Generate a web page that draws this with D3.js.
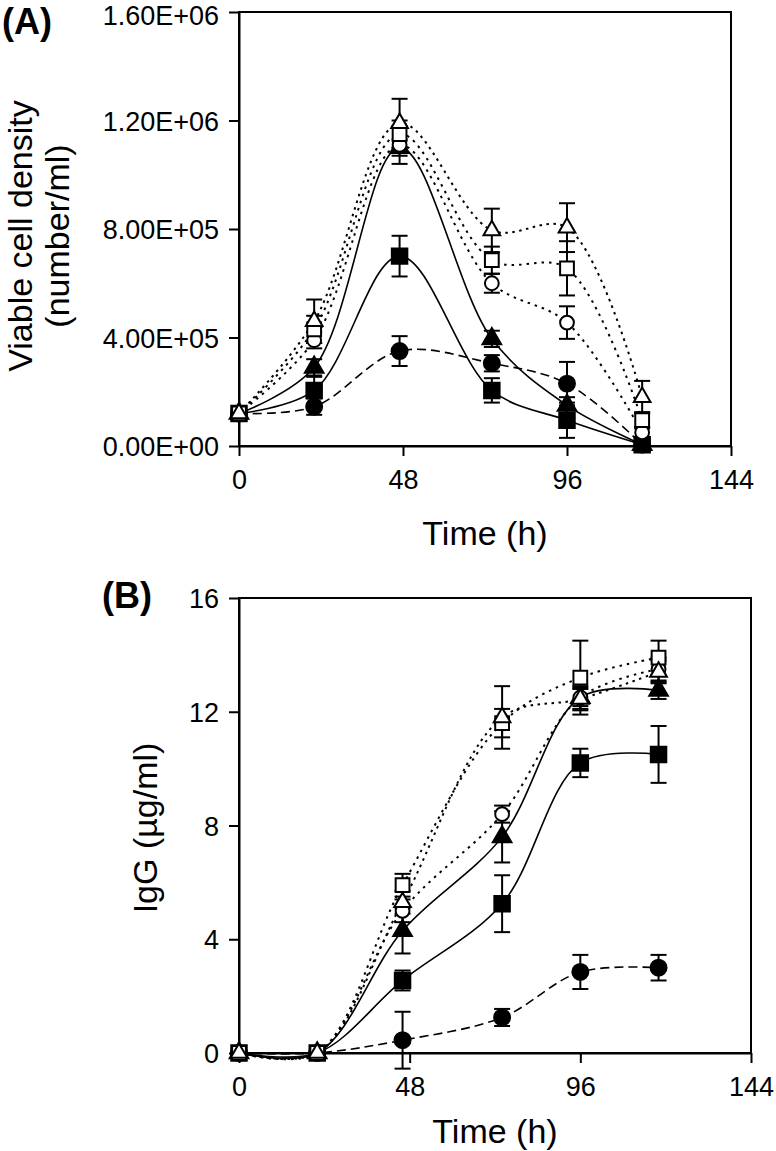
<!DOCTYPE html>
<html><head><meta charset="utf-8">
<script src="https://cdn.jsdelivr.net/npm/d3@7"></script>
<style>
body{margin:0;background:#fff}
svg{display:block}
text{font-family:"Liberation Sans",Arial,sans-serif;fill:#000}
</style>
</head><body>
<svg id="c" width="776" height="1151"></svg>
<script>
// ---------- DATA ----------
const timesA = [0, 22, 47, 74, 96, 118];
const timesB = [0, 22, 46, 74, 96, 118];

// Panel A: viable cell density (number/ml)
const fCircleA = [1.2e5, 1.45e5, 3.5e5, 3.05e5, 2.3e5, 0.05e5];
const fSquareA = [1.2e5, 2.05e5, 7.0e5, 2.05e5, 0.95e5, 0.05e5];
const fTriA    = [1.2e5, 2.9e5, 11.0e5, 3.95e5, 1.5e5, 0.05e5];
const oCircleA = [1.2e5, 3.9e5, 11.1e5, 6.0e5, 4.55e5, 0.5e5];
const oSquareA = [1.2e5, 4.3e5, 11.5e5, 6.85e5, 6.55e5, 0.95e5];
const oTriA    = [1.2e5, 4.6e5, 11.9e5, 7.95e5, 8.05e5, 1.8e5];

const fCircleAErr = [0, 0.3e5, 0.55e5, 0.3e5, 0.8e5, 0];
const fSquareAErr = [0, 0.5e5, 0.75e5, 0.45e5, 0.65e5, 0.1e5];
const fTriAErr    = [0, 0.3e5, 0.3e5, 0.3e5, 0.3e5, 0.1e5];
const oCircleAErr = [0, 0.3e5, 0.7e5, 0.35e5, 0.6e5, 0.2e5];
const oSquareAErr = [0, 0.5e5, 0.5e5, 0.5e5, 1.0e5, 0.3e5];
const oTriAErr    = [0, 0.8e5, 0.9e5, 0.8e5, 0.9e5, 0.6e5];

// Panel B: IgG (ug/ml)
const fCircleB = [0, 0, 0.45, 1.25, 2.85, 3.0];
const fSquareB = [0, 0, 2.55, 5.25, 10.2, 10.5];
const fTriB    = [0, 0, 4.3, 7.6, 12.5, 12.75];
const oCircleB = [0, 0, 5.0, 8.4, 12.5, 13.5];
const oSquareB = [0, 0, 5.9, 11.6, 13.2, 13.9];
const oTriB    = [0, 0, 5.3, 11.8, 12.45, 13.4];

const fCircleBErr = [0, 0, 1.0, 0.3, 0.6, 0.45];
const fSquareBErr = [0, 0, 0.35, 1.0, 0.5, 1.0];
const fTriBErr    = [0, 0, 0.8, 0.9, 0.3, 0.3];
const oCircleBErr = [0, 0, 0.4, 0.3, 0.4, 0.4];
const oSquareBErr = [0, 0, 0.4, 0.5, 1.3, 0.6];
const oTriBErr    = [0, 0, 0.4, 1.1, 0.4, 0.4];

// Ticks
const xTicks = [0, 48, 96, 144];
const yTicksA = [0, 4e5, 8e5, 12e5, 16e5];
const yTickLabelsA = ["0.00E+00", "4.00E+05", "8.00E+05", "1.20E+06", "1.60E+06"];
const yTicksB = [0, 4, 8, 12, 16];
const yTickLabelsB = ["0", "4", "8", "12", "16"];

// ---------- DRAW ----------
const svg = d3.select("#c");

const styles = {
  fCircle: {sym: d3.symbolCircle, size: 200, fill: "#000", dash: "9,5"},
  fSquare: {sym: d3.symbolSquare, size: 240, fill: "#000", dash: null},
  fTri:    {sym: d3.symbolTriangle, size: 150, fill: "#000", dash: null},
  oCircle: {sym: d3.symbolCircle, size: 150, fill: "#fff", dash: "2.5,5"},
  oSquare: {sym: d3.symbolSquare, size: 190, fill: "#fff", dash: "2.5,5"},
  oTri:    {sym: d3.symbolTriangle, size: 120, fill: "#fff", dash: "2.5,4.5"}
};

function panel(cfg) {
  const g = svg.append("g");
  const x = d3.scaleLinear().domain([0, 144]).range([cfg.left, cfg.right]);
  const y = d3.scaleLinear().domain(cfg.yDomain).range([cfg.bottom, cfg.top]);

  // frame
  g.append("rect").attr("x", cfg.left).attr("y", cfg.top)
    .attr("width", cfg.right - cfg.left).attr("height", cfg.bottom - cfg.top)
    .attr("fill", "none").attr("stroke", "#000").attr("stroke-width", 2);

  const xa = g.append("g").attr("transform", `translate(0,${cfg.bottom})`)
    .call(d3.axisBottom(x).tickValues(xTicks).tickSize(10).tickSizeOuter(0).tickPadding(14).tickFormat(d3.format("d")));
  const ya = g.append("g").attr("transform", `translate(${cfg.left},0)`)
    .call(d3.axisLeft(y).tickValues(cfg.yTicks).tickSize(10).tickSizeOuter(0).tickPadding(10)
      .tickFormat((d, i) => cfg.yLabels[i]));
  [xa, ya].forEach(a => {
    a.select(".domain").attr("stroke-width", 2);
    a.selectAll(".tick line").attr("stroke-width", 2);
    a.selectAll(".tick text").style("font-size", "27px")
      .style("font-family", '"Liberation Sans",Arial,sans-serif');
  });
  ya.selectAll(".tick text").attr("dy", "0.36em");
  // keep the topmost label inside the page
  ya.selectAll(".tick text").filter(d => y(d) < 20).attr("dy", "0.48em");

  const line = d3.line().curve(d3.curveCatmullRom.alpha(0.5)).x(d => x(d[0])).y(d => y(d[1]));

  const order = ["fCircle", "fSquare", "fTri", "oCircle", "oSquare", "oTri"];
  // lines
  order.forEach(k => {
    const vals = cfg.series[k];
    const pts = cfg.times.map((t, i) => [t, vals[i]]);
    g.append("path").attr("d", line(pts)).attr("fill", "none").attr("stroke", "#000")
      .attr("stroke-width", k[0] === "o" ? 2 : 1.6)
      .attr("stroke-dasharray", styles[k].dash);
  });
  // error bars
  order.forEach(k => {
    const vals = cfg.series[k], errs = cfg.errors[k];
    cfg.times.forEach((t, i) => {
      if (!errs[i]) return;
      const cx = x(t), y1 = y(vals[i] + errs[i]), y0 = y(vals[i] - errs[i]);
      g.append("line").attr("x1", cx).attr("x2", cx).attr("y1", y0).attr("y2", y1)
        .attr("stroke", "#000").attr("stroke-width", 2);
      [y0, y1].forEach(yy => g.append("line").attr("x1", cx - 8).attr("x2", cx + 8)
        .attr("y1", yy).attr("y2", yy).attr("stroke", "#000").attr("stroke-width", 2));
    });
  });
  // markers
  order.forEach(k => {
    const s = styles[k], vals = cfg.series[k];
    cfg.times.forEach((t, i) => {
      g.append("path").attr("d", d3.symbol().type(s.sym).size(s.size)())
        .attr("transform", `translate(${x(t)},${y(vals[i])})`)
        .attr("fill", s.fill).attr("stroke", "#000").attr("stroke-width", 2);
    });
  });

  // x title
  g.append("text").attr("x", (cfg.left + cfg.right) / 2).attr("y", cfg.xTitleY)
    .attr("text-anchor", "middle").style("font-size", "34px").text("Time (h)");
  // y titles
  cfg.yTitles.forEach(tt => {
    g.append("text").attr("transform", `translate(${tt.x},${tt.cy}) rotate(-90)`)
      .attr("text-anchor", "middle").style("font-size", "34px").text(tt.text);
  });
  // panel label
  g.append("text").attr("x", cfg.label.x).attr("y", cfg.label.y)
    .style("font-size", "36px").style("font-weight", "bold").text(cfg.label.text);
}

panel({
  left: 239, right: 731, top: 12, bottom: 446,
  yDomain: [0, 16e5], yTicks: yTicksA, yLabels: yTickLabelsA,
  times: timesA,
  series: {fCircle: fCircleA, fSquare: fSquareA, fTri: fTriA, oCircle: oCircleA, oSquare: oSquareA, oTri: oTriA},
  errors: {fCircle: fCircleAErr, fSquare: fSquareAErr, fTri: fTriAErr, oCircle: oCircleAErr, oSquare: oSquareAErr, oTri: oTriAErr},
  xTitleY: 545,
  yTitles: [{text: "Viable cell density", x: 32, cy: 236}, {text: "(number/ml)", x: 69, cy: 236}],
  label: {text: "(A)", x: 2, y: 34}
});

panel({
  left: 239, right: 751, top: 598, bottom: 1053,
  yDomain: [0, 16], yTicks: yTicksB, yLabels: yTickLabelsB,
  times: timesB,
  series: {fCircle: fCircleB, fSquare: fSquareB, fTri: fTriB, oCircle: oCircleB, oSquare: oSquareB, oTri: oTriB},
  errors: {fCircle: fCircleBErr, fSquare: fSquareBErr, fTri: fTriBErr, oCircle: oCircleBErr, oSquare: oSquareBErr, oTri: oTriBErr},
  xTitleY: 1143,
  yTitles: [{text: "IgG (µg/ml)", x: 157, cy: 828}],
  label: {text: "(B)", x: 102, y: 608}
});
</script>
</body></html>
